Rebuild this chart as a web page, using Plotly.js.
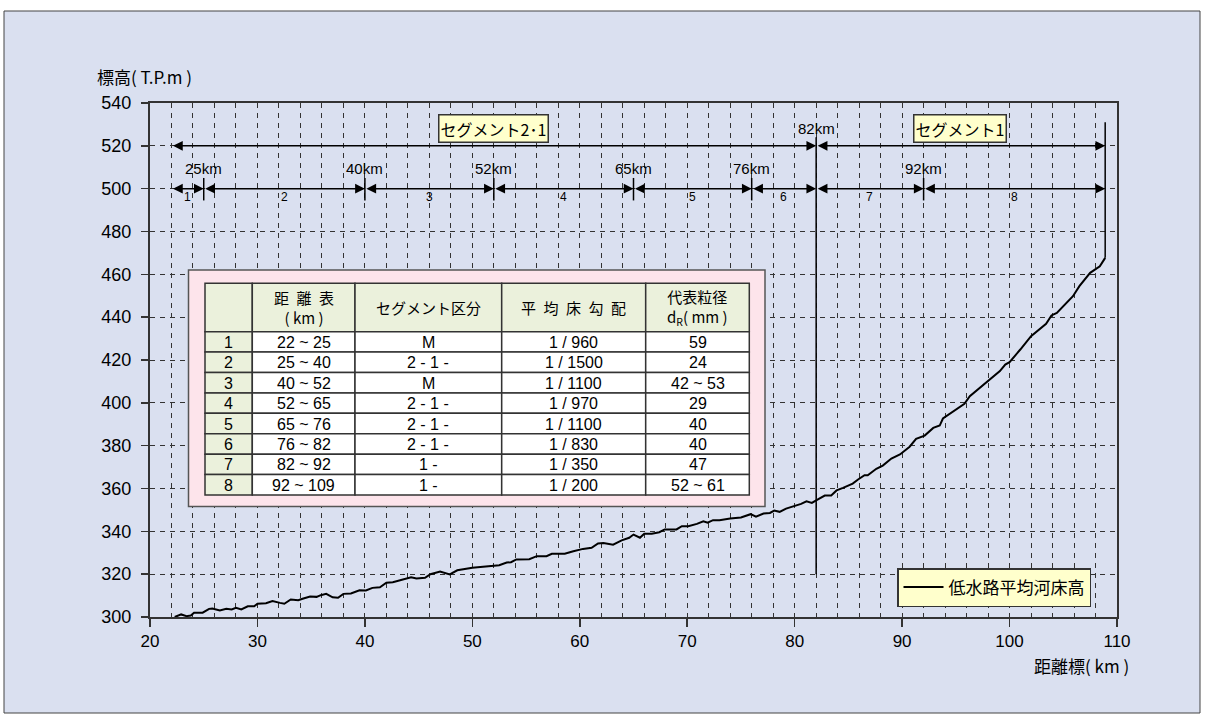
<!DOCTYPE html>
<html>
<head>
<meta charset="utf-8">
<script src="https://cdn.plot.ly/plotly-3.0.1.min.js"></script>
<style>
html,body{margin:0;padding:0;background:#ffffff;}
#chart{width:1205px;height:721px;}
</style>
</head>
<body>
<div id="chart"></div>
<script>
// ---------------- data ----------------
const distanceKm = [22.3,22.9,23.4,23.8,24.1,24.9,25.5,25.8,26.5,27.1,27.6,28.0,28.5,29.1,29.7,30.0,30.8,31.4,32.1,32.5,
  33.1,33.8,34.2,34.9,35.5,35.9,36.4,37.0,37.5,38.0,38.7,39.5,40.1,40.7,41.4,42.0,42.6,43.2,43.9,44.3,44.8,45.6,46.1,47.0,
  47.9,48.6,50.0,51.9,52.5,53.2,53.6,54.1,55.3,56.0,56.9,57.4,58.6,59.4,60.3,61.1,61.7,62.2,63.1,63.9,64.6,65.0,65.6,66.0,
  66.7,67.4,67.9,69.0,69.5,70.1,70.9,71.5,71.9,72.4,73.0,74.0,75.0,75.9,76.4,77.1,77.7,78.1,78.6,79.2,80.0,80.6,81.1,81.6,
  82.0,82.8,83.4,83.9,84.5,85.4,85.9,86.5,86.8,87.6,88.2,89.0,89.8,90.7,91.3,92.1,92.9,93.5,93.8,94.8,95.8,96.3,97.9,99.1,
  99.6,100.0,101.0,102.0,103.4,103.9,104.4,105.3,105.9,106.5,107.5,108.4,108.9];
const bedElevation = [300.0,301.2,300.4,300.7,302.0,302.0,303.8,304.0,303.0,303.8,303.5,304.3,303.5,305.0,305.0,306.2,306.4,307.4,306.6,306.2,
  308.2,307.8,308.5,309.6,309.4,310.2,310.8,309.2,309.0,310.8,311.0,312.5,312.4,313.6,313.9,316.0,316.2,317.0,318.0,318.6,318.0,318.3,320.0,321.2,
  319.9,321.8,323.0,323.7,324.2,325.4,325.6,326.9,327.0,328.4,328.4,329.5,329.5,330.7,331.8,332.3,334.3,334.6,333.8,335.8,337.0,338.5,337.0,338.9,
  338.9,339.6,340.9,340.9,342.4,342.4,343.5,344.7,344.0,345.2,345.2,346.0,346.5,348.0,346.8,348.3,348.6,349.7,349.1,350.6,351.7,352.8,354.0,353.3,
  354.5,356.7,356.7,359.1,360.3,362.3,364.2,366.2,366.2,369.2,370.7,374.0,375.9,379.5,383.2,384.7,388.3,389.4,392.7,396.0,399.5,403.1,409.6,414.8,
  417.9,419.0,424.9,431.1,436.9,440.8,442.0,446.7,449.8,454.5,460.7,463.8,467.7];
const seriesName = '低水路平均河床高';

// segment boundaries (km)
const segBounds = [22, 25, 40, 52, 65, 76, 82, 92, 108.9];
const bigBounds = [22, 82, 108.9];
const bigLabels = ['セグメント2･1', 'セグメント1'];
const bigLabelKm = [52, 95.4];

// table
const tblNo = ['1','2','3','4','5','6','7','8'];
const tblRange = ['22 ~ 25','25 ~ 40','40 ~ 52','52 ~ 65','65 ~ 76','76 ~ 82','82 ~ 92','92 ~ 109'];
const tblSeg = ['M','2 - 1 -','M','2 - 1 -','2 - 1 -','2 - 1 -','1 -','1 -'];
const tblSlope = ['1 / 960','1 / 1500','1 / 1100','1 / 970','1 / 1100','1 / 830','1 / 350','1 / 200'];
const tblGrain = ['59','24','42 ~ 53','29','40','40','47','52 ~ 61'];
const tblHeader = ['', '距\u2002離\u2002表<br>( km )', 'セグメント区分', '平\u2002均\u2002床\u2002勾\u2002配', '代表粒径<br>d<sub>R</sub>( mm )'];

// ---------------- layout helpers ----------------
const ML = 150, MR = 88, MT = 103, MB = 104;
const W = 1205 - ML - MR, H = 721 - MT - MB;
const px = X => (X - ML) / W;
const py = Y => 1 - (Y - MT) / H;
const FONT = "Liberation Sans, Arial, Noto Sans CJK JP, sans-serif";
const JFONT = "Noto Sans CJK JP, sans-serif";
const LINE = '#333333';

const shapes = [];
const annotations = [];

// outer frame
shapes.push({type:'rect', xref:'paper', yref:'paper', layer:'below',
  x0:px(4), x1:px(1200), y0:py(11), y1:py(713),
  fillcolor:'#dae0f0', line:{color:'#444', width:1}});

// top row double arrows
for (let i = 0; i < bigBounds.length - 1; i++) {
  annotations.push({x:bigBounds[i+1], y:520, ax:bigBounds[i], ay:520, xref:'x', yref:'y', axref:'x', ayref:'y',
    text:'', showarrow:true, arrowhead:2, startarrowhead:2, arrowside:'end+start',
    arrowsize:1.3, startarrowsize:1.3, arrowwidth:1.5, arrowcolor:'#000', standoff:0, startstandoff:0});
}
// second row double arrows
for (let i = 0; i < segBounds.length - 1; i++) {
  annotations.push({x:segBounds[i+1], y:500, ax:segBounds[i], ay:500, xref:'x', yref:'y', axref:'x', ayref:'y',
    text:'', showarrow:true, arrowhead:2, startarrowhead:2, arrowside:'end+start',
    arrowsize:1.3, startarrowsize:1.3, arrowwidth:1.5, arrowcolor:'#000', standoff:0, startstandoff:0});
  annotations.push({x:(segBounds[i]+segBounds[i+1])/2, y:496, xref:'x', yref:'y', text:String(i+1),
    xanchor:'center', yanchor:'middle', showarrow:false, font:{family:FONT, size:12, color:'#000'}});
}
// boundary ticks and km labels
segBounds.slice(1, -1).forEach(b => {
  if (b !== 82) {
    shapes.push({type:'line', xref:'x', yref:'y', x0:b, x1:b, y0:494.5, y1:505, line:{color:'#000', width:1.5}});
    annotations.push({x:b, y:509.5, xref:'x', yref:'y', text:b + 'km', showarrow:false, xanchor:'center', yanchor:'middle',
      font:{family:FONT, size:15, color:'#000'}});
  }
});
annotations.push({x:82, y:528, xref:'x', yref:'y', text:'82km', showarrow:false, xanchor:'center', yanchor:'middle',
  font:{family:FONT, size:15, color:'#000'}});
shapes.push({type:'line', xref:'x', yref:'y', x0:82, x1:82, y0:320, y1:524, line:{color:'#000', width:1.5}});
shapes.push({type:'line', xref:'x', yref:'y', x0:108.9, x1:108.9, y0:bedElevation[bedElevation.length-1], y1:531, line:{color:'#000', width:1.5}});

// segment name boxes
bigLabels.forEach((t, i) => {
  annotations.push({x:bigLabelKm[i], y:528.2, xref:'x', yref:'y', text:t, showarrow:false, xanchor:'center', yanchor:'middle',
    font:{family:JFONT, size:16, color:'#000'},
    bgcolor:'#ffffcc', bordercolor:LINE, borderwidth:1.5, borderpad:1});
});

// ---------------- table ----------------
shapes.push({type:'rect', xref:'paper', yref:'paper', x0:px(188.5), x1:px(765), y0:py(270), y1:py(506.5),
  fillcolor:'#fde4eb', line:{color:'#555', width:1.5}});
const colEdges = [205, 252.3, 355, 501.7, 645.7, 749.3];
const tTop = 283.3, hBot = 331.7, tBot = 495;
const rowH = (tBot - hBot) / tblNo.length;
const cols = [tblNo, tblRange, tblSeg, tblSlope, tblGrain];
const GREEN = '#ebf1dc';
// header cells
for (let c = 0; c < cols.length; c++) {
  shapes.push({type:'rect', xref:'paper', yref:'paper', x0:px(colEdges[c]), x1:px(colEdges[c+1]), y0:py(hBot), y1:py(tTop),
    fillcolor:GREEN, line:{color:LINE, width:1.5}});
  if (tblHeader[c]) {
    annotations.push({x:px((colEdges[c]+colEdges[c+1])/2), y:py((tTop+hBot)/2), xref:'paper', yref:'paper',
      xanchor:'center', yanchor:'middle',
      text:tblHeader[c], showarrow:false, font:{family:JFONT, size:15, color:'#000'}});
  }
}
// body cells
for (let r = 0; r < tblNo.length; r++) {
  const y0 = hBot + r * rowH, y1 = y0 + rowH;
  for (let c = 0; c < cols.length; c++) {
    shapes.push({type:'rect', xref:'paper', yref:'paper', x0:px(colEdges[c]), x1:px(colEdges[c+1]), y0:py(y1), y1:py(y0),
      fillcolor:c === 0 ? GREEN : '#ffffff', line:{color:LINE, width:1.5}});
    annotations.push({x:px((colEdges[c]+colEdges[c+1])/2), y:py((y0+y1)/2 + 0.5), xref:'paper', yref:'paper',
      xanchor:'center', yanchor:'middle',
      text:cols[c][r], showarrow:false, font:{family:FONT, size:16, color:'#000'}});
  }
}

// axis titles
annotations.push({x:px(95), y:py(77), xref:'paper', yref:'paper', xanchor:'left', yanchor:'middle', text:'標高( T.P.m )', showarrow:false,
  font:{family:JFONT, size:17, color:'#000'}});
annotations.push({x:px(1131), y:py(665), xref:'paper', yref:'paper', xanchor:'right', yanchor:'middle', text:'距離標( km )', showarrow:false,
  font:{family:JFONT, size:17, color:'#000'}});

const trace = {x:distanceKm, y:bedElevation, type:'scatter', mode:'lines', name:seriesName,
  line:{color:'#000', width:2}};

const layout = {
  width:1205, height:721,
  margin:{l:ML, r:MR, t:MT, b:MB},
  paper_bgcolor:'#ffffff', plot_bgcolor:'#ffffff',
  font:{family:FONT, size:16, color:'#000'},
  showlegend:true,
  legend:{x:px(1091), xanchor:'right', y:py(607), yanchor:'bottom', bgcolor:'#ffffcc', bordercolor:LINE, borderwidth:1.5,
    font:{family:JFONT, size:17, color:'#000'}, itemwidth:40, tracegroupgap:0},
  xaxis:{range:[20,110], dtick:10, tick0:0, showline:true, mirror:true, linecolor:LINE, linewidth:2,
    ticks:'outside', ticklen:8, tickcolor:LINE, tickwidth:1.5, tickfont:{size:17, family:FONT},
    showgrid:true, gridcolor:'#333', griddash:'5px,5px', gridwidth:1, zeroline:false,
    minor:{dtick:2, showgrid:true, gridcolor:'#333', griddash:'5px,5px', gridwidth:1}},
  yaxis:{range:[300,540], dtick:20, showline:true, mirror:true, linecolor:LINE, linewidth:2,
    ticks:'outside', ticklen:7, tickcolor:LINE, tickwidth:1.5, tickfont:{size:18, family:FONT}, ticklabelstandoff:6,
    showgrid:true, gridcolor:'#333', griddash:'5px,5px', gridwidth:1, zeroline:false},
  shapes:shapes,
  annotations:annotations
};

Plotly.newPlot('chart', [trace], layout, {displayModeBar:false, staticPlot:true});
</script>
</body>
</html>
